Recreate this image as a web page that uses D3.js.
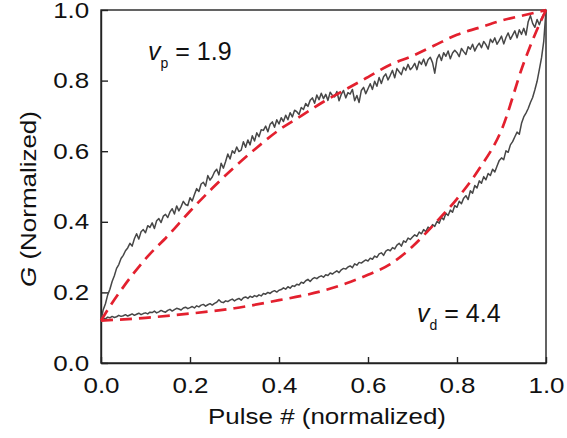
<!DOCTYPE html>
<html>
<head>
<meta charset="utf-8">
<script src="https://cdn.jsdelivr.net/npm/d3@7/dist/d3.min.js"></script>
<style>
  body { margin: 0; background: #fff; }
  text { font-family: "Liberation Sans", Arial, sans-serif; fill: #111; }
</style>
</head>
<body>
<svg id="chart" width="567" height="438"></svg>
<script>
// measured conductance, potentiation branch (pulse # normalized 0..1, 201 pulses)
const potG = [
  0.120, 0.151, 0.168, 0.193, 0.209, 0.231, 0.247, 0.268, 0.279, 0.296,
  0.305, 0.318, 0.326, 0.339, 0.331, 0.352, 0.366, 0.351, 0.372, 0.378,
  0.369, 0.389, 0.384, 0.397, 0.381, 0.403, 0.409, 0.398, 0.416, 0.421,
  0.412, 0.428, 0.437, 0.422, 0.445, 0.431, 0.443, 0.458, 0.449, 0.446,
  0.468, 0.459, 0.477, 0.494, 0.486, 0.507, 0.512, 0.501, 0.531, 0.518,
  0.527, 0.541, 0.549, 0.533, 0.566, 0.552, 0.571, 0.592, 0.578, 0.601,
  0.594, 0.612, 0.599, 0.603, 0.627, 0.611, 0.632, 0.618, 0.644, 0.629,
  0.652, 0.641, 0.661, 0.659, 0.671, 0.655, 0.676, 0.683, 0.668, 0.689,
  0.677, 0.695, 0.684, 0.702, 0.689, 0.709, 0.697, 0.716, 0.712, 0.704,
  0.724, 0.718, 0.735, 0.727, 0.744, 0.751, 0.736, 0.759, 0.746, 0.764,
  0.749, 0.761, 0.744, 0.767, 0.758, 0.754, 0.769, 0.743, 0.761, 0.772,
  0.751, 0.766, 0.762, 0.775, 0.743, 0.758, 0.738, 0.772, 0.781, 0.763,
  0.777, 0.791, 0.775, 0.798, 0.784, 0.809, 0.792, 0.811, 0.819, 0.802,
  0.815, 0.829, 0.808, 0.834, 0.825, 0.817, 0.838, 0.829, 0.846, 0.831,
  0.838, 0.849, 0.831, 0.855, 0.846, 0.861, 0.842, 0.859, 0.866, 0.851,
  0.821, 0.861, 0.874, 0.857, 0.879, 0.869, 0.884, 0.862, 0.878, 0.886,
  0.879, 0.868, 0.891, 0.882, 0.874, 0.896, 0.889, 0.903, 0.884, 0.897,
  0.906, 0.893, 0.911, 0.902, 0.889, 0.917, 0.908, 0.921, 0.903, 0.914,
  0.926, 0.904, 0.922, 0.935, 0.917, 0.929, 0.941, 0.921, 0.944, 0.931,
  0.948, 0.929, 0.967, 0.984, 0.962, 0.951, 0.973, 0.958, 0.976, 0.989,
  1.000
];

// measured conductance, depression branch (plotted in reverse pulse order)
const depG = [
  0.120, 0.127, 0.125, 0.130, 0.128, 0.132, 0.129, 0.131, 0.135, 0.132,
  0.134, 0.137, 0.133, 0.136, 0.139, 0.135, 0.138, 0.141, 0.137, 0.140,
  0.142, 0.139, 0.144, 0.143, 0.147, 0.142, 0.145, 0.149, 0.146, 0.144,
  0.149, 0.152, 0.147, 0.151, 0.155, 0.153, 0.150, 0.156, 0.158, 0.154,
  0.157, 0.160, 0.156, 0.162, 0.159, 0.164, 0.166, 0.161, 0.165, 0.168,
  0.164, 0.169, 0.172, 0.179, 0.173, 0.171, 0.176, 0.174, 0.178, 0.181,
  0.176, 0.180, 0.183, 0.178, 0.185, 0.187, 0.183, 0.189, 0.186, 0.191,
  0.188, 0.193, 0.190, 0.197, 0.195, 0.200, 0.197, 0.202, 0.205, 0.201,
  0.206, 0.208, 0.213, 0.209, 0.216, 0.212, 0.219, 0.217, 0.223, 0.221,
  0.229, 0.226, 0.233, 0.237, 0.231, 0.238, 0.242, 0.239, 0.244, 0.247,
  0.243, 0.250, 0.248, 0.255, 0.252, 0.257, 0.261, 0.256, 0.264, 0.268,
  0.266, 0.272, 0.275, 0.270, 0.281, 0.277, 0.285, 0.283, 0.288, 0.292,
  0.289, 0.297, 0.294, 0.303, 0.299, 0.309, 0.312, 0.305, 0.317, 0.321,
  0.318, 0.327, 0.323, 0.334, 0.339, 0.331, 0.346, 0.342, 0.354, 0.350,
  0.357, 0.363, 0.359, 0.371, 0.366, 0.378, 0.372, 0.385, 0.380, 0.392,
  0.387, 0.401, 0.396, 0.413, 0.406, 0.424, 0.418, 0.433, 0.427, 0.446,
  0.441, 0.458, 0.451, 0.467, 0.474, 0.463, 0.488, 0.481, 0.503, 0.496,
  0.516, 0.509, 0.528, 0.519, 0.537, 0.531, 0.549, 0.541, 0.558, 0.574,
  0.581, 0.576, 0.601, 0.597, 0.618, 0.627, 0.641, 0.654, 0.648, 0.679,
  0.697, 0.708, 0.721, 0.738, 0.752, 0.774, 0.798, 0.831, 0.865, 0.912,
  1.000
];

// fitted curves (red dashed)
const potFitX = [0, 0.025, 0.05, 0.1, 0.15, 0.2, 0.25, 0.3, 0.35, 0.4, 0.45, 0.5, 0.55, 0.6, 0.65, 0.7, 0.75, 0.8, 0.85, 0.9, 0.95, 1];
const potFitG = [0.12, 0.17, 0.215, 0.295, 0.36, 0.43, 0.495, 0.555, 0.61, 0.66, 0.70, 0.74, 0.775, 0.81, 0.845, 0.87, 0.90, 0.93, 0.95, 0.97, 0.985, 1.0];
const depFitX = [0, 0.1, 0.2, 0.3, 0.4, 0.45, 0.5, 0.55, 0.6, 0.65, 0.7, 0.75, 0.8, 0.85, 0.9, 0.95, 0.975, 1];
const depFitG = [0.12, 0.128, 0.14, 0.155, 0.178, 0.19, 0.205, 0.225, 0.25, 0.28, 0.33, 0.395, 0.465, 0.55, 0.66, 0.85, 0.93, 1.0];

const xTicks = [0, 0.2, 0.4, 0.6, 0.8, 1.0];
const yTicks = [0, 0.2, 0.4, 0.6, 0.8, 1.0];

let chart = d3.select("#chart");
let plotLeft = 101, plotRight = 546, plotTop = 10, plotBottom = 363;

let x = d3.scaleLinear().domain([0, 1]).range([plotLeft, plotRight]);
let y = d3.scaleLinear().domain([0, 1]).range([plotBottom, plotTop]);

// frame
chart.append("rect")
    .attr("x", plotLeft).attr("y", plotTop)
    .attr("width", plotRight - plotLeft).attr("height", plotBottom - plotTop)
    .attr("fill", "none").attr("stroke", "#222").attr("stroke-width", 1.4);

// axes with inward ticks
let xAxis = d3.axisBottom(x).tickValues(xTicks).tickFormat(d3.format(".1f"))
    .tickSizeInner(-6).tickSizeOuter(0).tickPadding(14);
let xg = chart.append("g").attr("transform", "translate(0," + plotBottom + ")").call(xAxis);

let yAxis = d3.axisLeft(y).tickValues(yTicks).tickFormat(d3.format(".1f"))
    .tickSizeInner(-7).tickSizeOuter(0).tickPadding(10);
let yg = chart.append("g").attr("transform", "translate(" + plotLeft + ",0)").call(yAxis);

[xg, yg].forEach(function(g) {
    g.select(".domain").attr("stroke", "#222").attr("stroke-width", 1.4);
    g.selectAll(".tick line").attr("stroke", "#222").attr("stroke-width", 1.4);
    g.selectAll(".tick text")
        .attr("font-size", 22)
        .attr("font-family", "Liberation Sans, Arial, sans-serif")
        .attr("fill", "#111")
        .attr("transform", "scale(1.18,1)");
});

// measured traces
let line = d3.line()
    .x(function(d) { return x(d[0]); })
    .y(function(d) { return y(d[1]); });

[potG, depG].forEach(function(arr) {
    chart.append("path")
        .datum(arr.map(function(v, i) { return [i / (arr.length - 1), v]; }))
        .attr("fill", "none")
        .attr("stroke", "#474747")
        .attr("stroke-width", 1.5)
        .attr("stroke-linejoin", "round")
        .attr("d", line);
});

// fits
let fitLine = d3.line()
    .x(function(d) { return x(d[0]); })
    .y(function(d) { return y(d[1]); })
    .curve(d3.curveMonotoneX);

[[potFitX, potFitG], [depFitX, depFitG]].forEach(function(f) {
    chart.append("path")
        .datum(f[0].map(function(v, i) { return [v, f[1][i]]; }))
        .attr("fill", "none")
        .attr("stroke", "#e3202e")
        .attr("stroke-width", 2.7)
        .attr("stroke-dasharray", "12,7")
        .attr("d", fitLine);
});

// axis titles
chart.append("text")
    .attr("transform", "translate(327,424) scale(1.18,1)")
    .attr("text-anchor", "middle")
    .attr("font-size", 22)
    .text("Pulse # (normalized)");

let yt = chart.append("text")
    .attr("transform", "translate(36,199) rotate(-90) scale(1.18,1)")
    .attr("text-anchor", "middle")
    .attr("font-size", 22);
yt.append("tspan").attr("font-style", "italic").text("G");
yt.append("tspan").text(" (Normalized)");

// annotations
function note(px, py, sub, val) {
    let t = chart.append("text").attr("x", px).attr("y", py).attr("font-size", 25);
    t.append("tspan").attr("font-style", "italic").text("v");
    t.append("tspan").attr("font-size", 14).attr("dy", 8).text(sub);
    t.append("tspan").attr("dy", -8).text(" = " + val);
}
note(148, 60, "p", "1.9");
note(417, 322, "d", "4.4");
</script>
</body>
</html>
